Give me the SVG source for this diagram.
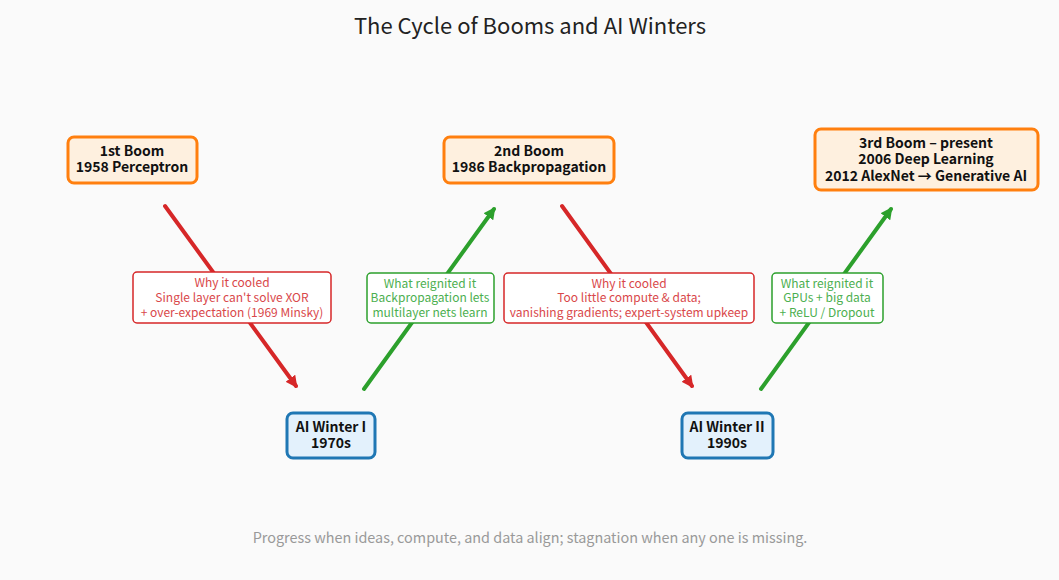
<svg xmlns="http://www.w3.org/2000/svg" width="1059" height="580" viewBox="0 0 1059 580">
<defs>
<style>
text{font-family:"Noto Sans CJK JP","Liberation Sans",sans-serif;text-anchor:middle}
.title{font-size:22px;fill:#222}
.boom{fill:#fef0df;stroke:#ff7f0e;stroke-width:3}
.winter{fill:#e3f1fc;stroke:#1f77b4;stroke-width:3}
.nt{font-size:14px;font-weight:bold;fill:#111}
.lbr{fill:#fff;stroke:#d62728;stroke-width:1.5}
.lbg{fill:#fff;stroke:#2ca02c;stroke-width:1.5}
.tr{font-size:12px;fill:#d9474a}
.tg{font-size:12px;fill:#4caf50}
.red{stroke:#d62728;stroke-width:4;fill:none;stroke-linecap:round}
.grn{stroke:#2ca02c;stroke-width:4;fill:none;stroke-linecap:round}
.foot{font-size:14.4px;fill:#999}
</style>
<marker id="ar" viewBox="0 0 10 10" refX="8" refY="5" markerWidth="3" markerHeight="3" orient="auto" markerUnits="strokeWidth"><path d="M0,0L10,5L0,10z" fill="#d62728"/></marker>
<marker id="ag" viewBox="0 0 10 10" refX="8" refY="5" markerWidth="3" markerHeight="3" orient="auto" markerUnits="strokeWidth"><path d="M0,0L10,5L0,10z" fill="#2ca02c"/></marker>
</defs>
<rect width="1059" height="580" fill="#fafafa"/>
<text class="title" x="530" y="34">The Cycle of Booms and AI Winters</text>
<g id="connectors">
<line class="red" x1="165" y1="206" x2="296" y2="386" marker-end="url(#ar)"/>
<line class="grn" x1="364" y1="389" x2="494" y2="209" marker-end="url(#ag)"/>
<line class="red" x1="562" y1="206" x2="692" y2="386" marker-end="url(#ar)"/>
<line class="grn" x1="761" y1="389" x2="891" y2="209" marker-end="url(#ag)"/>
<g id="label-cool1"><rect class="lbr" x="133" y="272" width="198" height="51" rx="4"/>
<text class="tr" x="232" y="287">Why it cooled</text><text class="tr" x="232" y="302">Single layer can't solve XOR</text><text class="tr" x="232" y="317">+ over-expectation (1969 Minsky)</text></g>
<g id="label-reignite1"><rect class="lbg" x="367" y="273" width="127" height="50" rx="4"/>
<text class="tg" x="430" y="288">What reignited it</text><text class="tg" x="430" y="302">Backpropagation lets</text><text class="tg" x="430" y="317">multilayer nets learn</text></g>
<g id="label-cool2"><rect class="lbr" x="504" y="273" width="250" height="50" rx="4"/>
<text class="tr" x="629" y="288">Why it cooled</text><text class="tr" x="629" y="302">Too little compute &amp; data;</text><text class="tr" x="629" y="317">vanishing gradients; expert-system upkeep</text></g>
<g id="label-reignite2"><rect class="lbg" x="772" y="273" width="111" height="50" rx="4"/>
<text class="tg" x="827" y="288">What reignited it</text><text class="tg" x="827" y="302">GPUs + big data</text><text class="tg" x="827" y="317">+ ReLU / Dropout</text></g>
</g>
<g id="boom1"><rect class="boom" x="68" y="137" width="129" height="46" rx="6"/>
<text class="nt" x="132" y="156">1st Boom</text><text class="nt" x="132" y="172">1958 Perceptron</text></g>
<g id="boom2"><rect class="boom" x="444" y="137" width="170" height="46" rx="6"/>
<text class="nt" x="529" y="156">2nd Boom</text><text class="nt" x="529" y="172">1986 Backpropagation</text></g>
<g id="boom3"><rect class="boom" x="815" y="129" width="223" height="61" rx="6"/>
<text class="nt" x="926" y="148">3rd Boom – present</text><text class="nt" x="926" y="164">2006 Deep Learning</text><text class="nt" x="926" y="181">2012 AlexNet → Generative AI</text></g>
<g id="winter1"><rect class="winter" x="287" y="413" width="88" height="45" rx="6"/>
<text class="nt" x="331" y="432">AI Winter I</text><text class="nt" x="331" y="448">1970s</text></g>
<g id="winter2"><rect class="winter" x="682" y="413" width="91" height="45" rx="6"/>
<text class="nt" x="727" y="432">AI Winter II</text><text class="nt" x="727" y="448">1990s</text></g>
<text class="foot" x="530" y="543">Progress when ideas, compute, and data align; stagnation when any one is missing.</text>
</svg>
